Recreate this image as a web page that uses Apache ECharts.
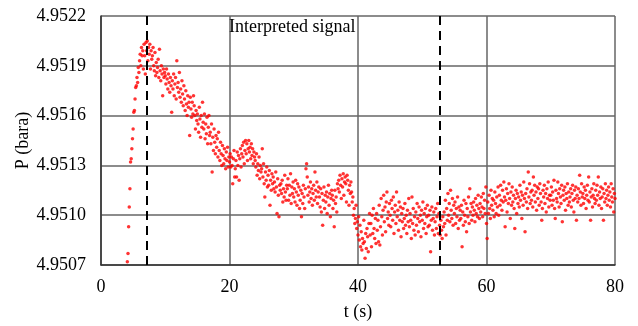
<!DOCTYPE html>
<html>
<head>
<meta charset="utf-8">
<title>Interpreted signal</title>
<script src="https://cdn.jsdelivr.net/npm/echarts@6.0.0/dist/echarts.min.js"></script>
<style>
  html, body { margin: 0; padding: 0; background: #fff; }
  #chart { width: 638px; height: 326px; }
</style>
</head>
<body>
<div id="chart"></div>
<script>
// samples every 0.1 s starting at t = 4.1 s
const T_START = 4.1
const T_STEP = 0.1

// P (bara)
// 4.1 - 6.9 s
const pRise = [
  4.95072,4.95077,4.95093,4.95105,4.95116,4.95132,4.95134,4.95140,4.95146,
  4.95152,4.95162,4.95163,4.95170,4.95177,4.95178,4.95183,4.95180,4.95189,4.95186,
  4.95193,4.95197,4.95190,4.95201,4.95196,4.95199,4.95188,4.95203,4.95196,4.95185
]

// 7.0 - 39.9 s
const pDecay = [
  4.95204,4.95199,4.95205,4.95193,4.95201,4.95197,4.95203,4.95188,4.95199,4.95194,
  4.95196,4.95201,4.95190,4.95187,4.95198,4.95184,4.95192,4.95186,4.95189,4.95194,
  4.95183,4.95200,4.95187,4.95181,4.95190,4.95185,4.95172,4.95188,4.95183,4.95186,
  4.95184,4.95179,4.95188,4.95182,4.95176,4.95185,4.95180,4.95174,4.95183,4.95178,
  4.95162,4.95181,4.95176,4.95185,4.95172,4.95179,4.95183,4.95170,4.95193,4.95177,
  4.95180,4.95174,4.95186,4.95171,4.95176,4.95168,4.95181,4.95173,4.95166,4.95178,
  4.95170,4.95163,4.95175,4.95167,4.95160,4.95172,4.95165,4.95168,4.95148,4.95171,
  4.95164,4.95159,4.95168,4.95161,4.95172,4.95166,4.95160,4.95152,4.95163,4.95157,
  4.95161,4.95155,4.95150,4.95165,4.95158,4.95147,4.95160,4.95153,4.95168,4.95156,
  4.95152,4.95161,4.95146,4.95155,4.95149,4.95159,4.95143,4.95153,4.95160,4.95148,
  4.95150,4.95143,4.95155,4.95126,4.95147,4.95139,4.95152,4.95144,4.95137,4.95148,
  4.95141,4.95146,4.95135,4.95150,4.95139,4.95133,4.95144,4.95137,4.95130,4.95142,
  4.95136,4.95131,4.95140,4.95134,4.95128,4.95138,4.95133,4.95141,4.95129,4.95135,
  4.95132,4.95137,4.95129,4.95135,4.95130,4.95119,4.95134,4.95139,4.95123,4.95128,
  4.95133,4.95123,4.95138,4.95130,4.95136,4.95121,4.95134,4.95140,4.95129,4.95137,
  4.95142,4.95135,4.95144,4.95131,4.95139,4.95145,4.95137,4.95143,4.95133,4.95140,
  4.95145,4.95138,4.95141,4.95134,4.95143,4.95136,4.95140,4.95131,4.95138,4.95135,
  4.95133,4.95129,4.95137,4.95124,4.95131,4.95127,4.95135,4.95122,4.95130,4.95126,
  4.95128,4.95140,4.95123,4.95131,4.95119,4.95111,4.95126,4.95121,4.95129,4.95117,
  4.95124,4.95118,4.95127,4.95106,4.95121,4.95115,4.95125,4.95119,4.95123,4.95116,
  4.95120,4.95114,4.95126,4.95117,4.95101,4.95122,4.95112,4.95099,4.95118,4.95115,
  4.95119,4.95113,4.95121,4.95108,4.95116,4.95111,4.95124,4.95114,4.95109,4.95118,
  4.95116,4.95122,4.95109,4.95118,4.95112,4.95125,4.95107,4.95117,4.95113,4.95120,
  4.95111,4.95116,4.95108,4.95121,4.95114,4.95106,4.95119,4.95112,4.95117,4.95104,
  4.95109,4.95115,4.95099,4.95113,4.95107,4.95118,4.95111,4.95104,4.95116,4.95128,
  4.95131,4.95123,4.95112,4.95117,4.95108,4.95114,4.95120,4.95110,4.95116,4.95106,
  4.95113,4.95118,4.95109,4.95126,4.95115,4.95111,4.95120,4.95107,4.95114,4.95117,
  4.95111,4.95105,4.95116,4.95102,4.95113,4.95094,4.95109,4.95117,4.95104,4.95112,
  4.95108,4.95114,4.95101,4.95111,4.95118,4.95106,4.95113,4.95099,4.95110,4.95115,
  4.95112,4.95104,4.95109,4.95093,4.95115,4.95107,4.95111,4.95102,4.95119,4.95116,
  4.95121,4.95114,4.95124,4.95118,4.95110,4.95122,4.95117,4.95125,4.95112,4.95120,
  4.95123,4.95119,4.95108,4.95124,4.95121,4.95115,4.95106,4.95118,4.95113,4.95120,
  4.95114,4.95108,4.95111,4.95100,4.95104,4.95095,4.95098,4.95106,4.95092,4.95096
]

// 40.0 - 52.9 s
const pDip = [
  4.95088,4.95099,4.95085,4.95094,4.95081,4.95090,4.95079,4.95086,4.95083,4.95097,
  4.95084,4.95074,4.95089,4.95080,4.95092,4.95087,4.95078,4.95095,4.95101,4.95088,
  4.95095,4.95081,4.95100,4.95089,4.95104,4.95092,4.95086,4.95098,4.95083,4.95101,
  4.95091,4.95097,4.95084,4.95106,4.95082,4.95093,4.95110,4.95099,4.95088,4.95103,
  4.95112,4.95096,4.95105,4.95090,4.95108,4.95114,4.95098,4.95102,4.95094,4.95107,
  4.95100,4.95093,4.95109,4.95104,4.95097,4.95111,4.95089,4.95102,4.95106,4.95095,
  4.95114,4.95099,4.95103,4.95091,4.95108,4.95097,4.95105,4.95087,4.95101,4.95096,
  4.95104,4.95092,4.95098,4.95107,4.95094,4.95100,4.95089,4.95103,4.95096,4.95110,
  4.95093,4.95101,4.95097,4.95086,4.95111,4.95095,4.95104,4.95091,4.95099,4.95088,
  4.95102,4.95094,4.95107,4.95098,4.95090,4.95105,4.95096,4.95100,4.95087,4.95103,
  4.95097,4.95108,4.95092,4.95101,4.95095,4.95104,4.95089,4.95099,4.95106,4.95093,
  4.95100,4.95094,4.95103,4.95078,4.95097,4.95105,4.95091,4.95098,4.95102,4.95088,
  4.95096,4.95104,4.95092,4.95099,4.95107,4.95089,4.95101,4.95094,4.95088,4.95097
]

// 53.0 - 80.0 s
const pSettle = [
  4.95091,4.95086,4.95099,4.95093,4.95102,4.95095,4.95109,4.95088,4.95104,4.95097,
  4.95113,4.95100,4.95107,4.95096,4.95115,4.95103,4.95098,4.95110,4.95094,4.95106,
  4.95101,4.95108,4.95095,4.95104,4.95099,4.95111,4.95092,4.95105,4.95097,4.95103,
  4.95098,4.95106,4.95081,4.95102,4.95094,4.95109,4.95100,4.95096,4.95107,4.95090,
  4.95104,4.95099,4.95111,4.95095,4.95116,4.95102,4.95107,4.95097,4.95105,4.95100,
  4.95108,4.95103,4.95096,4.95110,4.95101,4.95106,4.95099,4.95112,4.95104,4.95098,
  4.95107,4.95102,4.95111,4.95105,4.95099,4.95113,4.95104,4.95109,4.95101,4.95117,
  4.95095,4.95086,4.95108,4.95101,4.95112,4.95104,4.95098,4.95115,4.95106,4.95110,
  4.95103,4.95109,4.95099,4.95114,4.95107,4.95101,4.95111,4.95105,4.95117,4.95100,
  4.95112,4.95106,4.95118,4.95109,4.95103,4.95115,4.95108,4.95120,4.95111,4.95093,
  4.95109,4.95116,4.95102,4.95113,4.95107,4.95119,4.95110,4.95098,4.95114,4.95106,
  4.95117,4.95108,4.95112,4.95104,4.95092,4.95110,4.95115,4.95101,4.95113,4.95107,
  4.95111,4.95105,4.95118,4.95109,4.95114,4.95098,4.95112,4.95106,4.95120,4.95110,
  4.95090,4.95113,4.95108,4.95116,4.95104,4.95126,4.95111,4.95119,4.95107,4.95114,
  4.95109,4.95115,4.95105,4.95123,4.95112,4.95118,4.95108,4.95114,4.95103,4.95117,
  4.95110,4.95116,4.95106,4.95119,4.95113,4.95108,4.95097,4.95104,4.95115,4.95111,
  4.95118,4.95107,4.95113,4.95102,4.95116,4.95110,4.95120,4.95105,4.95112,4.95109,
  4.95112,4.95117,4.95106,4.95114,4.95109,4.95121,4.95104,4.95098,4.95115,4.95110,
  4.95108,4.95120,4.95113,4.95105,4.95116,4.95111,4.95107,4.95118,4.95096,4.95112,
  4.95115,4.95109,4.95117,4.95103,4.95113,4.95110,4.95119,4.95106,4.95114,4.95108,
  4.95111,4.95116,4.95105,4.95113,4.95118,4.95109,4.95102,4.95115,4.95110,4.95117,
  4.95097,4.95112,4.95108,4.95116,4.95110,4.95124,4.95114,4.95106,4.95119,4.95111,
  4.95113,4.95107,4.95117,4.95110,4.95115,4.95104,4.95112,4.95118,4.95109,4.95123,
  4.95108,4.95114,4.95097,4.95111,4.95116,4.95105,4.95112,4.95119,4.95110,4.95107,
  4.95115,4.95109,4.95118,4.95112,4.95123,4.95106,4.95114,4.95110,4.95117,4.95104,
  4.95111,4.95116,4.95097,4.95113,4.95108,4.95119,4.95110,4.95115,4.95106,4.95112,
  4.95117,4.95109,4.95114,4.95105,4.95119,4.95111,4.95108,4.95116,4.95102,4.95113,
  4.95110
]

// dashed markers bounding the interpreted window
const markerTimes = [7.05, 52.8]

const xTicks = { min: 0, max: 80, interval: 20 }
const yTicks = { min: 4.9507, max: 4.9522, interval: 0.0003 }

const pressure = [...pRise, ...pDecay, ...pDip, ...pSettle]
const points = pressure.map((p, i) => [Math.round(T_START * 10 + i * T_STEP * 10) / 10, p])

const FONT = '"Liberation Serif", "Times New Roman", serif'

const chart = echarts.init(document.getElementById('chart'), null, { renderer: 'canvas' })

const option = {
  animation: false,
  backgroundColor: '#fff',
  title: {
    text: 'Interpreted signal',
    left: 229,
    top: 18,
    padding: 0,
    textStyle: { fontFamily: FONT, fontSize: 18, fontWeight: 'normal', color: '#000' }
  },
  grid: { left: 101, right: 23, top: 16, bottom: 59 },
  xAxis: {
    type: 'value',
    min: xTicks.min,
    max: xTicks.max,
    interval: xTicks.interval,
    name: 't (s)',
    nameLocation: 'middle',
    nameGap: 38,
    nameMoveOverlap: false,
    nameTextStyle: { fontFamily: FONT, fontSize: 18, color: '#000' },
    axisLine: { show: true, lineStyle: { color: '#333', width: 1.5 } },
    axisTick: { show: false },
    axisLabel: { fontFamily: FONT, fontSize: 18, color: '#000', margin: 13 },
    splitLine: { show: true, lineStyle: { color: '#666', width: 1.5 } }
  },
  yAxis: {
    type: 'value',
    min: yTicks.min,
    max: yTicks.max,
    interval: yTicks.interval,
    name: 'P (bara)',
    nameLocation: 'middle',
    nameGap: 69,
    nameMoveOverlap: false,
    nameTextStyle: { fontFamily: FONT, fontSize: 18, color: '#000' },
    axisLine: { show: true, lineStyle: { color: '#333', width: 1.5 } },
    axisTick: { show: false },
    axisLabel: {
      fontFamily: FONT,
      fontSize: 18,
      color: '#000',
      margin: 15,
      formatter: v => v.toFixed(4)
    },
    splitLine: { show: true, lineStyle: { color: '#666', width: 1.5 } }
  },
  series: [{
    type: 'scatter',
    data: points,
    symbol: 'circle',
    symbolSize: 3.5,
    itemStyle: { color: '#ff0000' },
    markLine: {
      silent: true,
      symbol: ['none', 'none'],
      label: { show: false },
      lineStyle: { color: '#000', type: [9, 6], width: 2 },
      data: markerTimes.map(t => ({ xAxis: t }))
    }
  }]
}

chart.setOption(option)
</script>
</body>
</html>
